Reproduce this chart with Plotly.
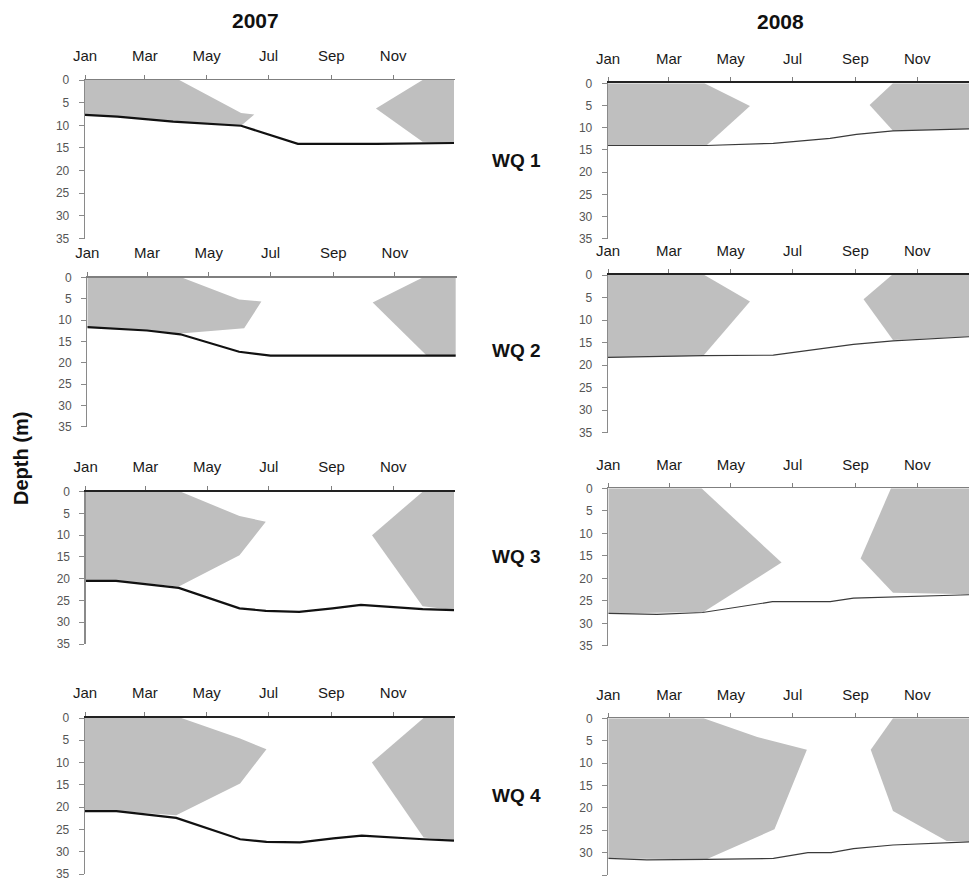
import plotly.graph_objects as go

W, H = 969, 882
OFF = 0  # body margin is removed by the post script below

# ---------------- data (dates, depth in m) ----------------
month_ticks_2007 = ["2007-01-01", "2007-03-01", "2007-05-01", "2007-07-01", "2007-09-01", "2007-11-01"]
month_ticks_2008 = ["2008-01-01", "2008-03-01", "2008-05-01", "2008-07-01", "2008-09-01", "2008-11-01"]
month_labels = ["Jan", "Mar", "May", "Jul", "Sep", "Nov"]
depth_ticks = [0, 5, 10, 15, 20, 25, 30, 35]
station_labels = ["WQ 1", "WQ 2", "WQ 3", "WQ 4"]
year_labels = ["2007", "2008"]

# WQ 1, 2007
wq1_2007_line_dates = ["2007-01-01", "2007-02-02", "2007-03-29", "2007-06-04", "2007-07-30", "2007-10-16", "2007-12-31"]
wq1_2007_line_depth = [7.7, 8.1, 9.2, 10.1, 14.1, 14.1, 13.9]
wq1_2007_early_dates = ["2007-01-01", "2007-04-04", "2007-06-04", "2007-06-17", "2007-06-04", "2007-03-29", "2007-02-02", "2007-01-01"]
wq1_2007_early_depth = [0, 0, 7.3, 7.6, 10.1, 9.2, 8.1, 7.7]
wq1_2007_late_dates = ["2007-11-30", "2007-10-15", "2007-11-30", "2007-12-31", "2007-12-31"]
wq1_2007_late_depth = [0, 6.3, 13.6, 13.9, 0]

# WQ 2, 2007
wq2_2007_line_dates = ["2007-01-01", "2007-03-01", "2007-04-03", "2007-05-31", "2007-07-01", "2007-12-01", "2007-12-31"]
wq2_2007_line_depth = [11.6, 12.4, 13.3, 17.4, 18.3, 18.3, 18.3]
wq2_2007_early_dates = ["2007-01-01", "2007-04-05", "2007-05-31", "2007-06-22", "2007-06-05", "2007-04-03", "2007-03-01", "2007-01-01"]
wq2_2007_early_depth = [0, 0, 5.1, 5.6, 11.9, 13.1, 12.4, 11.6]
wq2_2007_late_dates = ["2007-11-28", "2007-10-10", "2007-12-02", "2007-12-31", "2007-12-31"]
wq2_2007_late_depth = [0, 5.8, 18.2, 18.3, 0]

# WQ 3, 2007
wq3_2007_line_dates = ["2007-01-01", "2007-01-31", "2007-04-03", "2007-06-02", "2007-06-28", "2007-07-31", "2007-09-02", "2007-09-30", "2007-11-30", "2007-12-31"]
wq3_2007_line_depth = [20.5, 20.5, 22.1, 26.8, 27.4, 27.6, 26.8, 26.0, 27.0, 27.2]
wq3_2007_early_dates = ["2007-01-01", "2007-04-05", "2007-06-02", "2007-06-28", "2007-06-02", "2007-04-03", "2007-01-31", "2007-01-01"]
wq3_2007_early_depth = [0, 0, 5.6, 6.9, 14.6, 21.8, 20.5, 20.5]
wq3_2007_late_dates = ["2007-11-30", "2007-10-11", "2007-11-30", "2007-12-31", "2007-12-31"]
wq3_2007_late_depth = [0, 10.0, 26.3, 27.2, 0]

# WQ 4, 2007
wq4_2007_line_dates = ["2007-01-01", "2007-02-01", "2007-04-01", "2007-06-03", "2007-06-29", "2007-08-01", "2007-09-03", "2007-10-01", "2007-12-01", "2007-12-31"]
wq4_2007_line_depth = [20.9, 20.9, 22.4, 27.2, 27.8, 27.9, 27.0, 26.4, 27.2, 27.5]
wq4_2007_early_dates = ["2007-01-01", "2007-04-06", "2007-06-03", "2007-06-29", "2007-06-03", "2007-04-01", "2007-02-01", "2007-01-01"]
wq4_2007_early_depth = [0, 0, 4.6, 7.0, 14.7, 21.8, 20.9, 20.9]
wq4_2007_late_dates = ["2007-12-01", "2007-10-11", "2007-12-01", "2007-12-31", "2007-12-31"]
wq4_2007_late_depth = [0, 10.0, 26.8, 27.5, 0]

# WQ 1, 2008
wq1_2008_line_dates = ["2008-01-01", "2008-04-07", "2008-06-12", "2008-08-07", "2008-09-02", "2008-10-08", "2008-12-31"]
wq1_2008_line_depth = [14.0, 14.0, 13.5, 12.4, 11.5, 10.7, 10.2]
wq1_2008_early_dates = ["2008-01-01", "2008-04-05", "2008-05-20", "2008-04-07", "2008-01-01"]
wq1_2008_early_depth = [0, 0, 5.1, 14.0, 14.0]
wq1_2008_late_dates = ["2008-10-08", "2008-09-15", "2008-10-08", "2008-12-31", "2008-12-31"]
wq1_2008_late_depth = [0, 4.9, 10.7, 10.2, 0]

# WQ 2, 2008
wq2_2008_line_dates = ["2008-01-01", "2008-04-04", "2008-06-12", "2008-08-30", "2008-10-08", "2008-12-31"]
wq2_2008_line_depth = [18.3, 17.9, 17.8, 15.4, 14.6, 13.6]
wq2_2008_early_dates = ["2008-01-01", "2008-04-05", "2008-05-20", "2008-04-04", "2008-01-01"]
wq2_2008_early_depth = [0, 0, 5.9, 17.9, 18.3]
wq2_2008_late_dates = ["2008-10-07", "2008-09-09", "2008-10-08", "2008-12-31", "2008-12-31"]
wq2_2008_late_depth = [0, 5.4, 14.4, 13.6, 0]

# WQ 3, 2008
wq3_2008_line_dates = ["2008-01-01", "2008-02-18", "2008-04-03", "2008-06-11", "2008-08-07", "2008-08-30", "2008-12-31"]
wq3_2008_line_depth = [27.8, 28.0, 27.6, 25.2, 25.2, 24.4, 23.6]
wq3_2008_early_dates = ["2008-01-01", "2008-04-02", "2008-06-20", "2008-04-04", "2008-01-01"]
wq3_2008_early_depth = [0, 0, 16.5, 27.5, 27.8]
wq3_2008_late_dates = ["2008-10-06", "2008-09-06", "2008-10-08", "2008-12-31", "2008-12-31"]
wq3_2008_late_depth = [0, 15.6, 23.2, 23.6, 0]

# WQ 4, 2008
wq4_2008_line_dates = ["2008-01-01", "2008-02-08", "2008-04-07", "2008-06-12", "2008-07-16", "2008-08-08", "2008-08-30", "2008-10-08", "2008-12-31"]
wq4_2008_line_depth = [31.3, 31.6, 31.5, 31.3, 30.0, 30.0, 29.1, 28.3, 27.5]
wq4_2008_early_dates = ["2008-01-01", "2008-04-04", "2008-05-27", "2008-07-15", "2008-06-13", "2008-04-07", "2008-01-01"]
wq4_2008_early_depth = [0, 0, 4.2, 7.0, 24.8, 31.5, 31.3]
wq4_2008_late_dates = ["2008-10-08", "2008-09-16", "2008-10-08", "2008-11-30", "2008-12-31", "2008-12-31"]
wq4_2008_late_depth = [0, 7.0, 20.7, 27.4, 27.5, 0]

# ---------------- layout (pixel geometry, screen coordinates) ----------------
panels = [
    dict(line=(wq1_2007_line_dates, wq1_2007_line_depth), early=(wq1_2007_early_dates, wq1_2007_early_depth),
         late=(wq1_2007_late_dates, wq1_2007_late_depth), px=(85, 455), py=(80, 238.6), yr=0, top=("#7f7f7f", 1.3)),
    dict(line=(wq1_2008_line_dates, wq1_2008_line_depth), early=(wq1_2008_early_dates, wq1_2008_early_depth),
         late=(wq1_2008_late_dates, wq1_2008_late_depth), px=(608, 969), py=(83.3, 238.8), yr=1, top=("#222222", 2)),
    dict(line=(wq2_2007_line_dates, wq2_2007_line_depth), early=(wq2_2007_early_dates, wq2_2007_early_depth),
         late=(wq2_2007_late_dates, wq2_2007_late_depth), px=(87.3, 456.7), py=(277.7, 426.7), yr=0, top=("#7f7f7f", 1.3)),
    dict(line=(wq2_2008_line_dates, wq2_2008_line_depth), early=(wq2_2008_early_dates, wq2_2008_early_depth),
         late=(wq2_2008_late_dates, wq2_2008_late_depth), px=(608, 969), py=(275, 432.7), yr=1, top=("#222222", 2)),
    dict(line=(wq3_2007_line_dates, wq3_2007_line_depth), early=(wq3_2007_early_dates, wq3_2007_early_depth),
         late=(wq3_2007_late_dates, wq3_2007_late_depth), px=(85.7, 455), py=(491.7, 644), yr=0, top=("#222222", 2)),
    dict(line=(wq3_2008_line_dates, wq3_2008_line_depth), early=(wq3_2008_early_dates, wq3_2008_early_depth),
         late=(wq3_2008_late_dates, wq3_2008_late_depth), px=(608.3, 969), py=(488.3, 645.8), yr=1, top=("#7f7f7f", 1.3)),
    dict(line=(wq4_2007_line_dates, wq4_2007_line_depth), early=(wq4_2007_early_dates, wq4_2007_early_depth),
         late=(wq4_2007_late_dates, wq4_2007_late_depth), px=(85, 455), py=(718, 874), yr=0, top=("#222222", 2)),
    dict(line=(wq4_2008_line_dates, wq4_2008_line_depth), early=(wq4_2008_early_dates, wq4_2008_early_depth),
         late=(wq4_2008_late_dates, wq4_2008_late_depth), px=(608.3, 969), py=(718.3, 875), yr=1, top=("#7f7f7f", 1.3)),
]

x_ranges = [["2007-01-01", "2008-01-01"], ["2008-01-01", "2008-12-22"]]
tick_sets = [month_ticks_2007, month_ticks_2008]
FILL = "#bfbfbf"
FONT = "Liberation Sans, Arial, sans-serif"


def fx(px):
    return (px - OFF) / W


def fy(py):
    return 1 - (py - OFF) / H


fig = go.Figure()
layout = {}
for i, p in enumerate(panels):
    n = "" if i == 0 else str(i + 1)
    xa, ya = "x" + n, "y" + n
    for key in ("early", "late"):
        xs, ys = p[key]
        fig.add_trace(go.Scatter(x=xs, y=ys, xaxis=xa, yaxis=ya, mode="lines", fill="toself",
                                 fillcolor=FILL, line=dict(width=0, color=FILL), hoverinfo="skip",
                                 showlegend=False))
    lx, ly = p["line"]
    lcol, lw = ("#111111", 2.2) if p["yr"] == 0 else ("#3a3a3a", 1.2)
    fig.add_trace(go.Scatter(x=lx, y=ly, xaxis=xa, yaxis=ya, mode="lines",
                             line=dict(color=lcol, width=lw), showlegend=False))
    x0, x1 = p["px"]
    y0, y1 = p["py"]
    layout["xaxis" + n] = dict(
        domain=[fx(x0), min(1.0, fx(x1))], anchor=ya, side="top", type="date", automargin=False,
        range=x_ranges[p["yr"]], tickmode="array", tickvals=tick_sets[p["yr"]], ticktext=month_labels,
        showline=True, linecolor=p["top"][0], linewidth=p["top"][1], mirror=False,
        ticks="outside", ticklen=4, tickcolor="#7f7f7f", tickwidth=1,
        showgrid=False, zeroline=False, ticklabelstandoff=8 if p["yr"] == 0 else 7,
        tickfont=dict(family=FONT, size=15, color="#1a1a1a"),
    )
    layout["yaxis" + n] = dict(
        domain=[fy(y1), fy(y0)], anchor=xa, range=[35, 0], automargin=False,
        tickmode="array", tickvals=depth_ticks,
        showline=True, linecolor="#8a8a8a", linewidth=1.3,
        ticks="outside", ticklen=5, tickcolor="#8a8a8a", tickwidth=1,
        showgrid=False, zeroline=False, ticklabelstandoff=7,
        tickfont=dict(family=FONT, size=12, color="#555555"),
    )

annotations = [
    dict(text="<b>%s</b>" % year_labels[0], x=fx(256), y=fy(20.5)),
    dict(text="<b>%s</b>" % year_labels[1], x=fx(780), y=fy(21)),
]
for lbl, yc in zip(station_labels, [160, 350.5, 556.7, 795.7]):
    annotations.append(dict(text="<b>%s</b>" % lbl, x=fx(516), y=fy(yc),
                            font=dict(family=FONT, size=19, color="#111111")))
annotations.append(dict(text="<b>Depth (m)</b>", x=fx(21), y=fy(459), textangle=-90,
                        font=dict(family=FONT, size=20, color="#111111")))
for a in annotations:
    a.update(xref="paper", yref="paper", showarrow=False, xanchor="center", yanchor="middle")
    a.setdefault("font", dict(family=FONT, size=21, color="#111111"))

fig.update_layout(
    width=W, height=H, margin=dict(l=0, r=0, t=0, b=0, autoexpand=False),
    paper_bgcolor="white", plot_bgcolor="white", showlegend=False,
    annotations=annotations, **layout,
)
fig.write_html("out.html", default_width="%dpx" % W, default_height="%dpx" % H,
               config={"displayModeBar": False, "staticPlot": True},
               post_script="document.body.style.margin='0';document.body.style.overflow='hidden';")
